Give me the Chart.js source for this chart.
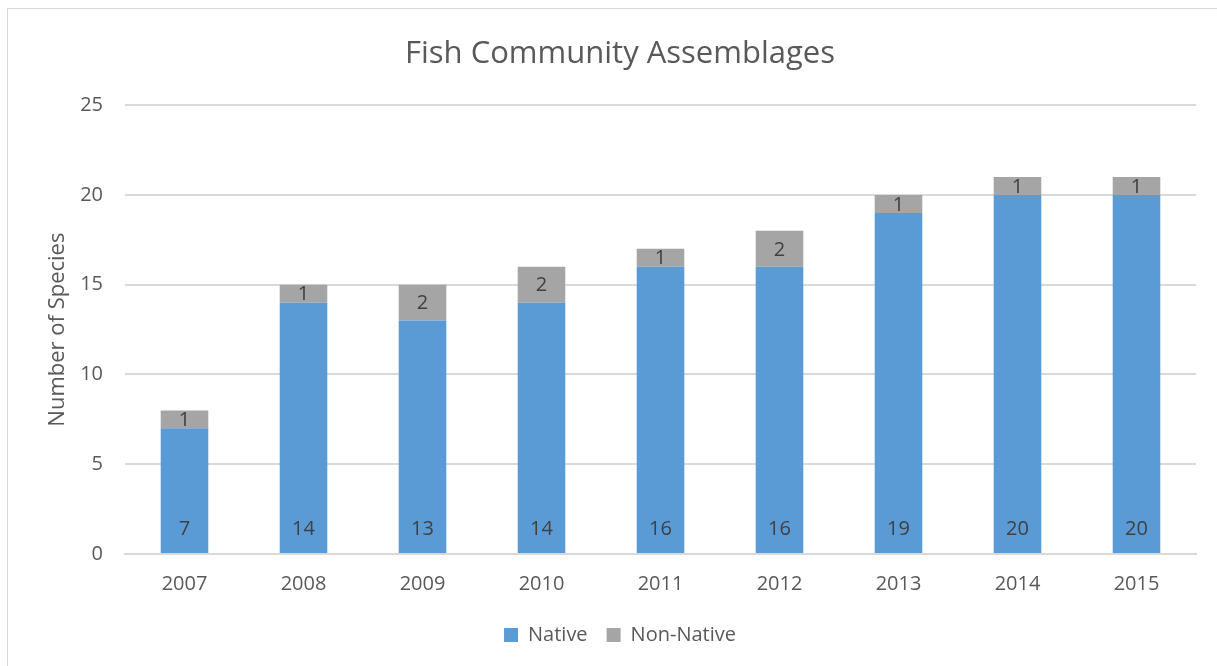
<!DOCTYPE html>
<html><head><meta charset="utf-8">
<script src="https://cdn.jsdelivr.net/npm/chart.js@4/dist/chart.umd.min.js"></script>
<style>
html,body{margin:0;padding:0;background:#fff;}
#wrap{position:absolute;left:0;top:0;width:1217px;height:666px;overflow:hidden;}
#frame{position:absolute;left:7px;top:8px;width:1215px;height:670px;border:1px solid #d9d9d9;box-sizing:border-box;}
canvas{position:absolute;left:0;top:0;}
</style></head>
<body><div id="wrap"><div id="frame"></div><canvas id="c" width="1217" height="666"></canvas></div>
<script>
const years = ['2007','2008','2009','2010','2011','2012','2013','2014','2015'];
const nativeCounts = [7,14,13,14,16,16,19,20,20];
const nonNativeCounts = [1,1,2,2,1,2,1,1,1];
const yTicks = [0,5,10,15,20,25];

const FONT = "'Open Sans', sans-serif";

const labelPlugin = {
  id:'labels',
  afterDatasetsDraw(chart){
    const ctx = chart.ctx;
    ctx.save();
    ctx.font = "20px " + FONT;
    ctx.fillStyle = '#404040';
    ctx.textAlign = 'center';
    ctx.textBaseline = 'middle';
    chart.data.datasets.forEach((ds, di) => {
      const meta = chart.getDatasetMeta(di);
      meta.data.forEach((bar, i) => {
        const v = ds.data[i];
        let y;
        if (di === 0) { y = bar.base - 24; }
        else { y = (bar.y + bar.base) / 2 + 1; }
        ctx.fillText(String(v), bar.x, y);
      });
    });
    ctx.restore();
  }
};

new Chart(document.getElementById('c'), {
  type:'bar',
  data:{
    labels: years,
    datasets:[
      {label:'Native', data: nativeCounts, backgroundColor:'#5b9bd5', categoryPercentage:1, barPercentage:0.4},
      {label:'Non-Native', data: nonNativeCounts, backgroundColor:'#a5a5a5', categoryPercentage:1, barPercentage:0.4}
    ]
  },
  options:{
    responsive:false,
    animation:false,
    devicePixelRatio:1,
    layout:{padding:{left:44,right:21,top:36,bottom:11}},
    plugins:{
      title:{display:true,text:'Fish Community Assemblages',color:'#595959',font:{family:FONT,size:31,weight:'normal'},padding:{top:0,bottom:32}},
      legend:{position:'bottom',labels:{color:'#595959',font:{family:FONT,size:20},boxWidth:14,boxHeight:14,padding:19}},
      tooltip:{enabled:false}
    },
    scales:{
      x:{stacked:true,grid:{display:false},border:{display:true,color:'#d9d9d9',width:2},
         ticks:{color:'#595959',font:{family:FONT,size:20},padding:10}},
      y:{stacked:true,min:0,max:25,
         afterBuildTicks(s){ s.ticks = yTicks.map(v=>({value:v})); },
         afterFit(s){ s.width = 81; },
         grid:{color:'#d9d9d9',lineWidth:2,drawTicks:false},
         border:{display:false},
         ticks:{color:'#595959',font:{family:FONT,size:20},padding:22},
         title:{display:true,text:'Number of Species',color:'#595959',font:{family:FONT,size:22},padding:{top:1,bottom:0}}
      }
    }
  },
  plugins:[labelPlugin]
});
</script></body></html>
